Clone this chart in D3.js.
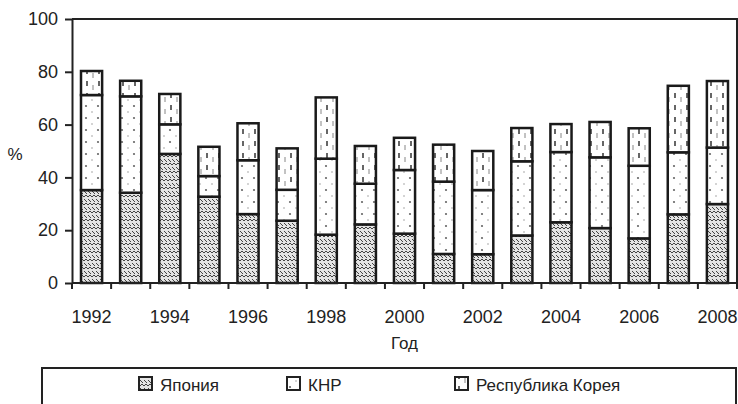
<!DOCTYPE html>
<html>
<head>
<meta charset="utf-8">
<script src="https://cdn.jsdelivr.net/npm/d3@7"></script>
<style>
  body { margin: 0; background: #fff; }
  svg { display: block; font-family: "Liberation Sans", Arial, Helvetica, sans-serif; }
  .axis text { font-size: 18px; fill: #222; }
  .axis path, .axis line { stroke: #222; stroke-width: 2px; }
</style>
</head>
<body>
<script>
// data (percent)
const years = ['1992','1993','1994','1995','1996','1997','1998','1999','2000','2001','2002','2003','2004','2005','2006','2007','2008'];
const japan = [35.2, 34.2, 48.9, 32.7, 26.1, 23.6, 18.3, 22.2, 18.7, 11.0, 10.9, 18.0, 23.0, 20.8, 16.9, 26.0, 29.9];
const china = [36.0, 36.5, 11.2, 7.8, 20.4, 11.7, 28.8, 15.4, 24.1, 27.4, 24.3, 28.1, 26.6, 26.8, 27.5, 23.5, 21.4];
const korea = [9.1, 5.9, 11.5, 11.1, 14.0, 15.7, 23.2, 14.3, 12.2, 14.0, 14.8, 12.6, 10.6, 13.4, 14.2, 25.2, 25.2];
const seriesNames = ['Япония', 'КНР', 'Республика Корея'];
const yTicks = [0, 20, 40, 60, 80, 100];
const xLabels = ['1992','1994','1996','1998','2000','2002','2004','2006','2008'];

const W = 738, H = 404;
const margin = {top: 19, right: 1, bottom: 121, left: 72};
const width = W - margin.left - margin.right;
const height = H - margin.top - margin.bottom;

const svg = d3.select('body').append('svg').attr('width', W).attr('height', H);

// fill patterns
const defs = svg.append('defs');
const pJ = defs.append('pattern').attr('id', 'pat-jp').attr('patternUnits', 'userSpaceOnUse')
  .attr('width', 8).attr('height', 8);
pJ.append('rect').attr('width', 8).attr('height', 8).attr('fill', '#e4e4e4');
pJ.append('path').attr('d', 'M0,2 L2,0 L4,2 L6,0 L8,2 M0,4 L3,7 M4,4 L7,7')
  .attr('stroke', '#444').attr('stroke-width', 1).attr('fill', 'none');

const pC = defs.append('pattern').attr('id', 'pat-cn').attr('patternUnits', 'userSpaceOnUse')
  .attr('width', 12).attr('height', 12);
pC.append('rect').attr('width', 12).attr('height', 12).attr('fill', '#fff');
pC.append('circle').attr('cx', 2).attr('cy', 3).attr('r', 1.1).attr('fill', '#666');
pC.append('circle').attr('cx', 8).attr('cy', 9).attr('r', 0.7).attr('fill', '#888');

const pK = defs.append('pattern').attr('id', 'pat-kr').attr('patternUnits', 'userSpaceOnUse')
  .attr('width', 12).attr('height', 12);
pK.append('rect').attr('width', 12).attr('height', 12).attr('fill', '#fff');
pK.append('line').attr('x1', 3).attr('x2', 3).attr('y1', 2).attr('y2', 7)
  .attr('stroke', '#555').attr('stroke-width', 1.8);
pK.append('line').attr('x1', 9).attr('x2', 9).attr('y1', 6).attr('y2', 11)
  .attr('stroke', '#777').attr('stroke-width', 0.9);

const fills = ['url(#pat-jp)', 'url(#pat-cn)', 'url(#pat-kr)'];

const g = svg.append('g').attr('transform', `translate(${margin.left},${margin.top})`);

const x = d3.scaleBand().domain(years).range([0, width]).paddingInner(0.46).paddingOuter(0.23);
const y = d3.scaleLinear().domain([0, 100]).range([height, 0]);

const rows = years.map((yr, i) => ({year: yr, jp: japan[i], cn: china[i], kr: korea[i]}));
const stack = d3.stack().keys(['jp', 'cn', 'kr'])(rows);

// frame: top and right
g.append('path')
  .attr('d', `M0,${y(100)} H${width} V${height}`)
  .attr('fill', 'none').attr('stroke', '#222').attr('stroke-width', 2);

g.selectAll('g.layer').data(stack).join('g').attr('class', 'layer')
  .attr('fill', (d, i) => fills[i])
  .selectAll('rect').data(d => d).join('rect')
  .attr('x', d => x(d.data.year))
  .attr('width', x.bandwidth())
  .attr('y', d => y(d[1]))
  .attr('height', d => y(d[0]) - y(d[1]))
  .attr('stroke', '#1a1a1a').attr('stroke-width', 2.5);

// y axis
g.append('g').attr('class', 'axis')
  .call(d3.axisLeft(y).tickValues(yTicks).tickSize(7).tickSizeOuter(0).tickPadding(7));

// x axis: ticks at band boundaries
const xa = g.append('g').attr('class', 'axis').attr('transform', `translate(0,${height})`);
xa.append('line').attr('x1', 0).attr('x2', width).attr('stroke', '#222').attr('stroke-width', 2);
const step = x.step();
const bounds = d3.range(years.length + 1).map(i => i * step);
xa.selectAll('line.tk').data(bounds).join('line').attr('class', 'tk')
  .attr('x1', d => d).attr('x2', d => d).attr('y1', 0).attr('y2', 6)
  .attr('stroke', '#222').attr('stroke-width', 2);
xa.selectAll('text').data(xLabels).join('text')
  .attr('x', d => x(d) + x.bandwidth() / 2)
  .attr('y', 40)
  .attr('text-anchor', 'middle')
  .text(d => d);

// axis titles
svg.append('text').attr('x', 15).attr('y', 160).attr('text-anchor', 'middle')
  .style('font-size', '17px').attr('fill', '#222').text('%');
svg.append('text').attr('x', margin.left + width / 2).attr('y', 349).attr('text-anchor', 'middle')
  .style('font-size', '17px').attr('fill', '#222').text('Год');

// legend
const lg = svg.append('g');
lg.append('rect').attr('x', 42).attr('y', 368).attr('width', 694).attr('height', 50)
  .attr('fill', 'none').attr('stroke', '#222').attr('stroke-width', 2);
const legX = [139, 287, 455];
seriesNames.forEach((name, i) => {
  lg.append('rect').attr('x', legX[i]).attr('y', 377).attr('width', 13).attr('height', 13)
    .attr('fill', fills[i]).attr('stroke', '#222').attr('stroke-width', 2);
  lg.append('text').attr('x', legX[i] + 21).attr('y', 391)
    .style('font-size', '17px').attr('fill', '#222').text(name);
});
</script>
</body>
</html>
